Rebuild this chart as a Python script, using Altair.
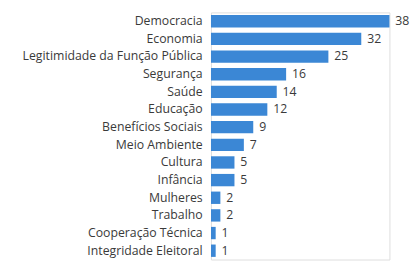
import altair as alt
import pandas as pd

categories = ["Democracia", "Economia", "Legitimidade da Função Pública", "Segurança",
              "Saúde", "Educação", "Benefícios Sociais", "Meio Ambiente", "Cultura",
              "Infância", "Mulheres", "Trabalho", "Cooperação Técnica", "Integridade Eleitoral"]
values = [38, 32, 25, 16, 14, 12, 9, 7, 5, 5, 2, 2, 1, 1]

df = pd.DataFrame({"cat": categories, "val": values})

FONT = "Open Sans"

base = alt.Chart(df).encode(
    y=alt.Y("cat:N", sort=categories, title=None,
            scale=alt.Scale(paddingInner=0.3, paddingOuter=0.15),
            axis=alt.Axis(domain=False, ticks=False, labelPadding=9, labelFontSize=12.5,
                          labelLimit=300, labelColor="#3a3a3a", labelFont=FONT)),
    x=alt.X("val:Q", title=None, scale=alt.Scale(domain=[0, 38]), axis=None),
)

bars = base.mark_bar(color="#3b87d5", cornerRadius=0)
text = base.mark_text(align="left", dx=6, fontSize=12.5, color="#3a3a3a", font=FONT).encode(text="val:Q")

chart = (bars + text).properties(
    width=182, height=252,
    autosize=alt.AutoSizeParams(type="none"),
    padding={"left": 207, "top": 2, "right": 23, "bottom": 0},
).configure_view(stroke=None).configure(background="white")

chart.save("out.html", embed_options={"renderer": "svg", "actions": False})
